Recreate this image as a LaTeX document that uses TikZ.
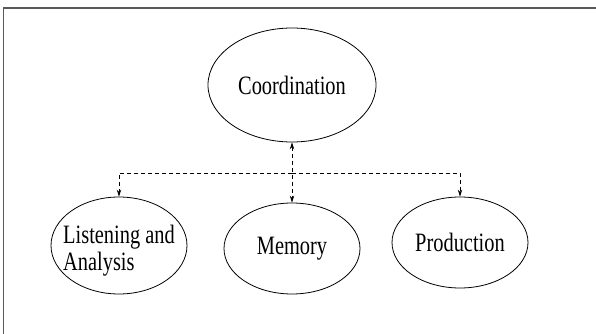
\documentclass[tikz,border=0pt]{standalone}
\usepackage{fontspec}
\setmainfont[FakeStretch=0.77]{Liberation Serif}
\usetikzlibrary{arrows.meta,shapes.geometric}

\begin{document}
\begin{tikzpicture}[
            x=1pt,y=-1pt,
            myellipse/.style={
            ellipse,
            draw=black,
            line width=0.8pt,
            minimum width=136pt,
            minimum height=92pt,
            inner sep=0pt},
        mytext/.style={
            inner sep=0pt,
            align=center,
            font=\fontsize{26.5}{27}\selectfont},
        myarrow/.style={dash pattern=on 4pt off 3pt,line width=0.9pt,
            -{Stealth[length=7pt,width=4.5pt]}}
        ]
        \useasboundingbox (0,0) rectangle (596,334);
        \draw[line width=1.5pt,black!65] (3.5,334) -- (3.5,8) -- (596,8);

        \node[myellipse,minimum width=168pt,minimum height=114pt,
            label={[mytext]center:Coordination}] (coord) at (292,85) {};
        \node[myellipse,minimum height=97pt,
            label={[mytext,align=left,yshift=-5pt]center:Listening and\\Analysis}] (lis) at (119,245.5) {};
        \node[myellipse,minimum height=91pt,
            label={[mytext]center:Memory}] (mem) at (292,248.5) {};
        \node[myellipse,minimum height=91pt,
            label={[mytext]center:Production}] (prod) at (460,242.5) {};

        \coordinate (hub) at (292,173);
        \draw[myarrow,{Stealth[length=7pt,width=4.5pt]}-{Stealth[length=7pt,width=4.5pt]}] (coord) -- (mem);
        \foreach \n in {lis,prod}
            \draw[myarrow] (hub) -| (\n);
\end{tikzpicture}
\end{document}
